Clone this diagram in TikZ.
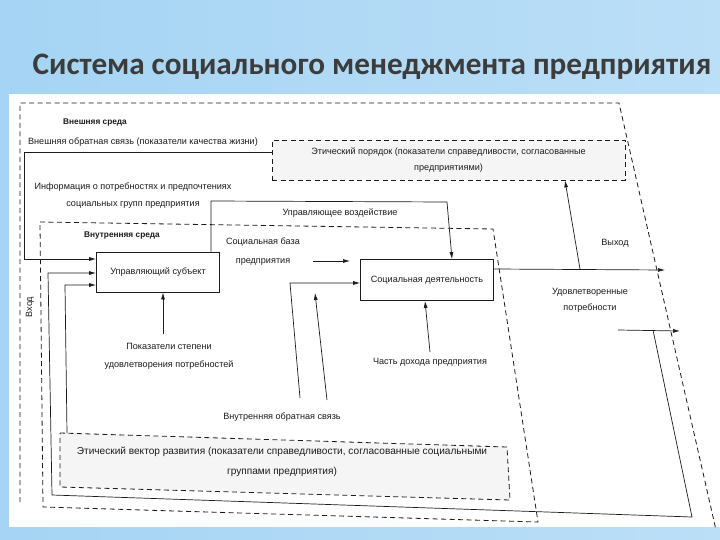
\documentclass[tikz,border=0pt]{standalone}
\usepackage{fontspec}
\setmainfont{Liberation Sans}
\newfontfamily\titlefont{Carlito}
\usetikzlibrary{arrows.meta, calc, positioning}
\definecolor{slideblue}{RGB}{165,212,244}
\definecolor{titlegray}{RGB}{60,60,60}
\definecolor{ink}{RGB}{28,28,28}

\begin{document}
\begin{tikzpicture}[x=1pt, y=-1pt, >={Latex[length=7pt,width=4pt]},
    every node/.style={font=\fontsize{9.1}{10}\selectfont, text=ink, inner sep=1pt},
    line/.style={draw=ink, line width=0.7pt},
    envline/.style={draw=ink, line width=0.8pt, dash pattern=on 5pt off 3.5pt},
    unitbox/.style={draw=ink, line width=0.8pt, minimum width=123pt, minimum height=40pt},
    twoline/.style={align=center, font=\fontsize{9.1}{#1}\selectfont},
    envlabel/.style={font=\fontsize{8.3}{10}\selectfont\bfseries}]
    \useasboundingbox (0,0) rectangle (720,540);

    % Slide background and scanned sheet
    \shade[left color=slideblue, middle color=slideblue!18, right color=slideblue!75] (0,0) rectangle (720,540);
    \fill[white] (9,94) rectangle (720,527);
    \node[font=\titlefont\bfseries\fontsize{31.2}{36}\selectfont, text=titlegray] (title) at (372,67)
        {Система социального менеджмента предприятия};

    % Environments
    \draw[envline] (20,502) -- (20,103) -- (619,103) -- (716,530);
    \draw[envline] (40,222) -- (493,229) -- (538,522) -- (43,507) -- cycle;
    \draw[envline, fill=black!4] (60,433) -- (507,447) -- (510,500) -- (60,487) -- cycle;
    \node[envlabel] (extlbl) at (95,123) {Внешняя среда};
    \node[envlabel] (intlbl) at (122,236) {Внутренняя среда};
    \node[rotate=90] (inlbl) at (30,307) {Вход};

    % Blocks
    \node[unitbox] (subj) at (158,272) {Управляющий субъект};
    \node[unitbox, minimum width=133pt, minimum height=41pt] (act) at (427,280) {Социальная деятельность};
    \node[twoline=16, envline, fill=black!4, minimum width=353pt, minimum height=40pt] (ethord) at (448.5,160)
        {Этический порядок (показатели справедливости, согласованные\\предприятиями)};
    \node[align=center, font=\fontsize{10.1}{20}\selectfont] (ethvec) at (282,462)
        {Этический вектор развития (показатели справедливости, согласованные социальными\\группами предприятия)};

    % Labels
    \node (extfb) at (143,142) {Внешняя обратная связь (показатели качества жизни)};
    \node[twoline=17] (info) at (133,196) {Информация о потребностях и предпочтениях\\социальных групп предприятия};
    \node (ctltxt) at (340,213) {Управляющее воздействие};
    \node[twoline=19] (base) at (263,252) {Социальная база\\предприятия};
    \node[twoline=18] (ind) at (169,356) {Показатели степени\\удовлетворения потребностей};
    \node (inc) at (430,362) {Часть дохода предприятия};
    \node (intfb) at (282,417) {Внутренняя обратная связь};
    \node (outlbl) at (615,243) {Выход};
    \node[twoline=16] (needs) at (590,300) {Удовлетворенные\\потребности};

    % Waypoints
    \coordinate (fbA) at (24,152);
    \coordinate (fbB) at (24,259);
    \coordinate (needsTap) at (653,330);
    \coordinate (loopR) at (692,517);
    \coordinate (loopL) at (52,495);
    \coordinate (loopT) at (48,273);
    \coordinate (evTap) at (67,433);
    \coordinate (evUp) at (65,285);
    \coordinate (ctlA) at (211,201);
    \coordinate (ctlB) at (447,202);
    \coordinate (indTop) at (163,334);
    \coordinate (bsA) at (313,261);
    \coordinate (bsB) at (350,261);
    \coordinate (ifA) at (300,398);
    \coordinate (ifB) at (290,283);
    \coordinate (ifC) at (327,400);
    \coordinate (ifD) at (315,293);
    \coordinate (incTop) at (430,352);
    \coordinate (outEnd) at (665,270);
    \coordinate (ordTap) at (580,269);
    \coordinate (needsA) at (618,330);
    \coordinate (needsB) at (680,331);

    % Feedback into the managing subject
    \draw[line,->] (ethord.west |- fbA) -- (fbA) -- (fbB) -- (subj.west |- fbB);
    \draw[line,->] (needsTap) -- (loopR) -- (loopL) -- (loopT) -- (subj.west |- loopT);
    \draw[line,->] (evTap) -- (evUp) -- (subj.west |- evUp);
    \draw[line,->] (indTop) -- (indTop |- subj.south);

    % Control action and social activity
    \draw[line,->] (ctlA |- subj.north) -- (ctlA) -- (ctlB) -- ($(act.north)+(25,0)$);
    \draw[line,->] (bsA) -- (bsB);
    \draw[line,->] (ifA) -- (ifB) -- (act.west |- ifB);
    \draw[line,->] (ifC) -- (ifD);
    \draw[line,->] (incTop) -- ($(act.south)+(-2,0)$);

    % Output
    \draw[line,->] (act.east |- ordTap) -- (outEnd);
    \draw[line,->] (ordTap) -- ($(ethord.south)+(116.5,0)$);
    \draw[line,->] (needsA) -- (needsB);
\end{tikzpicture}
\end{document}
